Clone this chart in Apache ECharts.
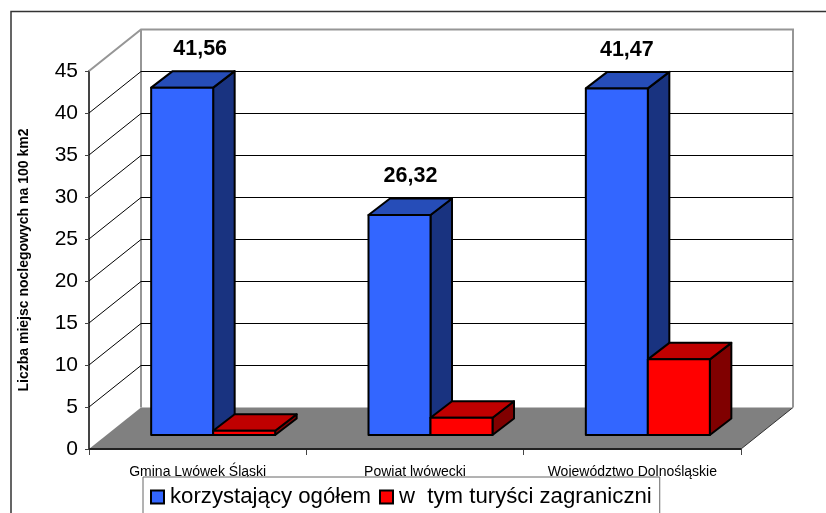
<!DOCTYPE html>
<html><head><meta charset="utf-8">
<style>html,body{margin:0;padding:0;background:#fff}#c{width:826px;height:513px}</style>
<script src="https://cdn.jsdelivr.net/npm/echarts@6/dist/echarts.min.js"></script>
</head><body><div id="c"></div>
<script>
const categories = ['Gmina Lwówek Śląski', 'Powiat lwówecki', 'Województwo Dolnośląskie'];
const seriesNames = ['korzystający ogółem', 'w  tym turyści zagraniczni'];
const totalValues = [41.56, 26.32, 41.47];
const foreignValues = [0.5, 2.07, 9.05];
const yTicks = [0, 5, 10, 15, 20, 25, 30, 35, 40, 45];
const axisTitle = 'Liczba miejsc noclegowych na 100 km2';

const FONT = '"Liberation Sans", Arial, sans-serif';
const DX = 52, DY = -41.5;          // wall depth
const BAR_DX = 15.5, BAR_DY = -14;  // bar front plane from the axis plane
const CUBE_DX = 21.5, CUBE_DY = -16.5;
const BAR_W = 62, V_SCALE = 0.995;
const labelNudge = [7, 0, -1];

function pg(points, fill, stroke, lw) {
  return {type: 'polygon', shape: {points}, style: {fill, stroke: stroke || null, lineWidth: lw || 0, lineJoin: 'round'}};
}
function ln(points, stroke, lw) {
  return {type: 'polyline', shape: {points}, style: {fill: null, stroke, lineWidth: lw}};
}

function renderFloor(params, api) {
  const cs = params.coordSys;
  const xa = cs.x, xb = cs.x + cs.width;
  const y = api.coord([0, 0])[1];
  return {type: 'group', silent: true, children: [
    pg([[xa, y], [xb, y], [xb + DX, y + DY], [xa + DX, y + DY]], '#808080'),
    ln([[xb, y], [xb + DX, y + DY]], '#333', 1)
  ]};
}
function renderWalls(params, api) {
  const cs = params.coordSys;
  const xa = cs.x, xb = cs.x + cs.width;
  const y0 = api.coord([0, 0])[1], yt = api.coord([0, yTicks[yTicks.length - 1]])[1];
  return {type: 'group', silent: true, children: [
    ln([[xa, yt], [xa + DX, yt + DY], [xb + DX, yt + DY], [xb + DX, y0 + DY]], '#969696', 2),
    ln([[xa + DX, yt + DY], [xa + DX, y0 + DY]], '#969696', 2)
  ]};
}
function renderGrid(params, api) {
  const cs = params.coordSys;
  const y = api.coord([0, api.value(0)])[1];
  const xa = cs.x, xb = cs.x + cs.width;
  const v = api.value(0);
  if (v === 0) return null;
  const last = yTicks[yTicks.length - 1];
  if (v === last) return null;
  return {type: 'group', silent: true, children: [
    ln([[xa, y], [xa + DX, y + DY], [xb + DX, y + DY]], '#000', 1)
  ]};
}
function makeBar(side, front, topC, sideC, withLabel) {
  return function (params, api) {
    const idx = params.dataIndex;
    const base = api.coord([idx, 0]);
    const h = api.size([0, api.value(1)])[1] * V_SCALE;
    const xc = base[0] + BAR_DX;
    const yb = base[1] + BAR_DY;
    const l = side === 0 ? xc - BAR_W : xc, r = l + BAR_W;
    const t = yb - h;
    const children = [
      pg([[r, t], [r + CUBE_DX, t + CUBE_DY], [r + CUBE_DX, yb + CUBE_DY], [r, yb]], sideC, '#000', 2),
      pg([[l, t], [l + CUBE_DX, t + CUBE_DY], [r + CUBE_DX, t + CUBE_DY], [r, t]], topC, '#000', 2),
      pg([[l, t], [r, t], [r, yb], [l, yb]], front, '#000', 2)
    ];
    if (withLabel) children.push({type: 'text', z2: 50, style: {
      text: String(api.value(1)).replace('.', ','),
      x: xc - 20 + labelNudge[idx], y: t - 38.5, align: 'center', verticalAlign: 'middle',
      font: 'bold 21.5px ' + FONT, fill: '#000'}});
    return {type: 'group', children};
  };
}

const chart = echarts.init(document.getElementById('c'), null, {renderer: 'canvas'});
chart.setOption({
  animation: false,
  backgroundColor: '#fff',
  graphic: [{type: 'polyline', shape: {points: [[11, 513], [11, 11.5], [826, 11.5]]}, style: {fill: null, stroke: '#333', lineWidth: 1.5}, z: 0, silent: true}],
  grid: {left: 89, right: 85, top: 71, bottom: 64, containLabel: false},
  legend: {
    left: 143, top: 477, padding: [9, 8, 22, 7], z: 20,
    itemWidth: 13, itemHeight: 13, itemGap: 8,
    backgroundColor: '#fff', borderColor: '#666', borderWidth: 1,
    textStyle: {fontFamily: FONT, fontSize: 22.2, color: '#000', padding: [0, 0, 0, 1]},
    data: seriesNames.map(n => ({name: n, icon: 'rect'})),
    selectedMode: false
  },
  xAxis: {type: 'category', data: categories, boundaryGap: true,
    axisLine: {show: false},
    axisTick: {show: true, length: 6, lineStyle: {color: '#444', width: 1}},
    axisLabel: {fontFamily: FONT, fontSize: 14, color: '#000', margin: 16, interval: 0}},
  yAxis: {type: 'value', min: 0, max: 45, interval: 5,
    name: axisTitle, nameLocation: 'middle', nameGap: 58, nameRotate: 90,
    nameTextStyle: {fontFamily: FONT, fontSize: 14, fontWeight: 'bold', color: '#000'},
    splitLine: {show: false},
    axisLine: {show: true, lineStyle: {color: '#444', width: 2}},
    axisTick: {show: true, length: 4, lineStyle: {color: '#444', width: 1}},
    axisLabel: {fontFamily: FONT, fontSize: 21, color: '#000', margin: 11}},
  series: [
    {type: 'custom', name: 'floor', z: 1, data: [0], renderItem: renderFloor, clip: false, silent: true, encode: {x: -1, y: -1}},
    {type: 'custom', name: 'walls', z: 2, data: [0], renderItem: renderWalls, clip: false, silent: true, encode: {x: -1, y: -1}},
    {type: 'custom', name: 'grid', z: 2, data: yTicks.map(v => [v]), renderItem: renderGrid, clip: false, silent: true, encode: {y: 0}},
    {type: 'custom', name: seriesNames[0], z: 3, clip: false, silent: true,
     itemStyle: {color: '#3366ff', borderColor: '#000', borderWidth: 2},
     data: totalValues.map((v, i) => [i, v]), encode: {x: 0, y: 1},
     renderItem: makeBar(0, '#3366ff', '#264db8', '#193380', true)},
    {type: 'custom', name: seriesNames[1], z: 4, clip: false, silent: true,
     itemStyle: {color: '#ff0000', borderColor: '#000', borderWidth: 2},
     data: foreignValues.map((v, i) => [i, v]), encode: {x: 0, y: 1},
     renderItem: makeBar(1, '#ff0000', '#c00000', '#800000', false)},
    {type: 'line', name: 'front', z: 5, silent: true, symbol: 'none', data: [],
     markLine: {silent: true, symbol: 'none', label: {show: false}, animation: false,
       lineStyle: {color: '#222', width: 2, type: 'solid'},
       data: [[{x: 89, y: 449}, {x: 741, y: 449}]]}}
  ]
});
</script></body></html>
